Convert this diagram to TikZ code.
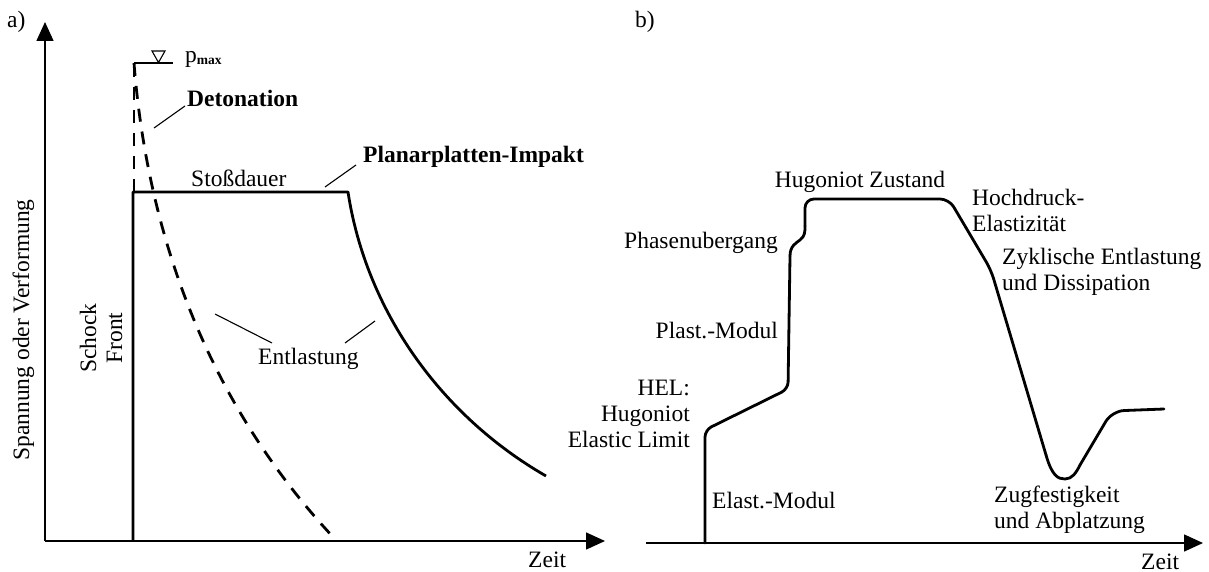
\documentclass[tikz,border=0pt]{standalone}
\usepackage{fontspec}
\setmainfont{Liberation Serif}
\usetikzlibrary{arrows.meta}
\begin{document}
\begin{tikzpicture}[x=1pt,y=-1pt,
  lbl/.style={inner sep=0pt, font=\fontsize{23.5}{26}\selectfont},
  blbl/.style={inner sep=0pt, font=\fontsize{23.5}{26}\selectfont\bfseries},
  axis/.style={line width=1.5pt, -{Triangle[length=19pt,width=17pt]}},
  curve/.style={line width=2.8pt, line join=round, line cap=round},
  dashcurve/.style={line width=2.8pt, dash pattern=on 13pt off 10pt},
  leader/.style={line width=1.1pt},
  thin/.style={line width=1.4pt}]
\path[use as bounding box, fill=white] (0,0) rectangle (1209,572);

% ---------- panel a) ----------
\node[lbl, anchor=base west] (la) at (7,28) {a)};
\coordinate (oa) at (45,541);
\coordinate (ya) at (45,22);
\coordinate (xa) at (605,541);
\draw[axis] (oa) -- (ya);
\draw[axis] (oa) -- (xa);
\node[lbl, anchor=base west] (zeitA) at (528,567) {Zeit};
\node[lbl, anchor=base, rotate=90] (ylab) at (29,330) {Spannung oder Verformung};
\node[lbl, align=center, rotate=90] (front) at (101,338) {Schock\\Front};

% peak marker
\coordinate (pk) at (134,63);
\coordinate (pkr) at (173,63);
\draw[thin] (pk) -- (pkr);
\draw[leader] (152,51) -- (165,51) -- (158.5,62.5) -- cycle;
\node[lbl, anchor=base west] (pmax) at (185,63)
  {p\raisebox{-2pt}{\fontsize{13.5}{14}\selectfont\bfseries max}};

% planar plate impact: shock front, plateau, release
\coordinate (s0) at (133,541);
\coordinate (s1) at (133,192);
\coordinate (s2) at (348,192);
\coordinate (s3) at (546,476);
\draw[curve, line cap=butt] (s0) -- (s1) -- (s2) .. controls (366,310) and (440,415) .. (s3);

% detonation: dashed rise and decay
\coordinate (d0) at (134,192);
\coordinate (d1) at (334,538);
\draw[dashcurve] (d0) -- (pk);
\draw[dashcurve] (pk) .. controls (147,230) and (205,400) .. (d1);

% labels of panel a)
\node[blbl, anchor=base west] (det) at (187,107) {Detonation};
\coordinate (detA) at (154,128);
\coordinate (detB) at (185,106);
\draw[leader] (detA) -- (detB);

\node[lbl, anchor=base west] (stoss) at (191,186) {Stoßdauer};

\node[blbl, anchor=base west] (ppi) at (363,163) {Planarplatten-Impakt};
\coordinate (ppiA) at (325,187);
\coordinate (ppiB) at (356,165);
\draw[leader] (ppiA) -- (ppiB);

\node[lbl, anchor=base west] (entl) at (258,364) {Entlastung};
\coordinate (e1a) at (215,314);
\coordinate (e1b) at (272,343);
\coordinate (e2a) at (375,321);
\coordinate (e2b) at (345,343);
\draw[leader] (e1a) -- (e1b);
\draw[leader] (e2a) -- (e2b);

% ---------- panel b) ----------
\node[lbl, anchor=base west] (lb) at (635,28) {b)};
\coordinate (ob) at (646,543);
\coordinate (xb) at (1203,543);
\draw[axis] (ob) -- (xb);
\node[lbl, anchor=base west] (zeitB) at (1141,569) {Zeit};

% wave profile
\draw[curve, rounded corners=7pt] (705,543) -- (705,430) -- (788,389) -- (790,256);
\draw[curve] (790,256) .. controls (790,246) and (796,243) .. (800,240)
  .. controls (805,236) and (805,232) .. (805,226);
\draw[curve, rounded corners=9pt] (805,226) -- (805,199) -- (949,199) -- (991,270) -- (1046,455);
\draw[curve] (1046,455) .. controls (1052,476) and (1058,479) .. (1065,479)
  .. controls (1072,479) and (1076,473) .. (1080,465);
\draw[curve, rounded corners=12pt] (1080,465) -- (1112,411) -- (1164,409);

% labels of panel b) (multi-line nodes sit on the baseline of their last line)
\node[lbl, anchor=base] (hug) at (860,188) {Hugoniot Zustand};
\node[lbl, anchor=base west, align=left] (hoch) at (972,231) {Hochdruck-\\Elastizität};
\node[lbl, anchor=base west, align=left] (zykl) at (1002,290) {Zyklische Entlastung\\und Dissipation};
\node[lbl, anchor=base east] (phase) at (778,248) {Phasenubergang};
\node[lbl, anchor=base east] (plast) at (778,338) {Plast.-Modul};
\node[lbl, anchor=base east, align=right] (hel) at (690,447) {HEL:\\Hugoniot\\Elastic Limit};
\node[lbl, anchor=base west] (elast) at (712,508) {Elast.-Modul};
\node[lbl, anchor=base west, align=left] (zug) at (994,528) {Zugfestigkeit\\und Abplatzung};
\end{tikzpicture}
\end{document}
